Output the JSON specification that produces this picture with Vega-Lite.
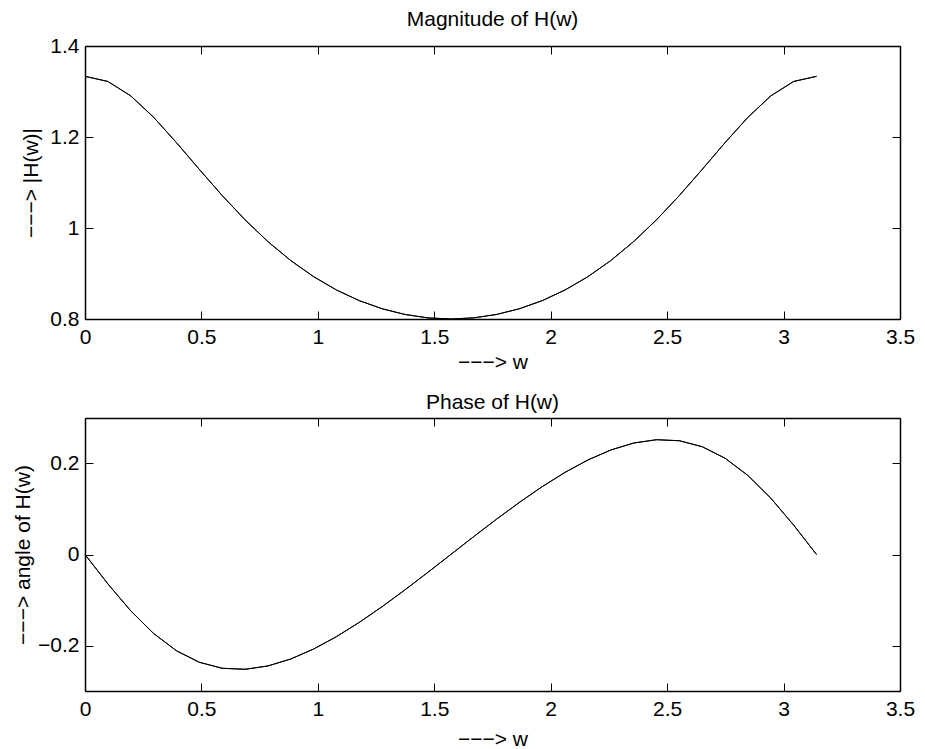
{
  "$schema": "https://vega.github.io/schema/vega-lite/v6.json",
  "background": "white",
  "padding": {"left": 11, "top": 9, "right": 5, "bottom": 0},
  "spacing": 19,
  "data": {"values": [
    {"w": 0.0, "mag": 1.33333, "phase": 0.0},
    {"w": 0.09817, "mag": 1.32209, "phase": -0.06453},
    {"w": 0.19635, "mag": 1.29039, "phase": -0.12377},
    {"w": 0.29452, "mag": 1.24345, "phase": -0.17358},
    {"w": 0.3927, "mag": 1.18766, "phase": -0.21152},
    {"w": 0.49087, "mag": 1.12887, "phase": -0.23687},
    {"w": 0.58905, "mag": 1.0714, "phase": -0.25006},
    {"w": 0.68722, "mag": 1.018, "phase": -0.25228},
    {"w": 0.7854, "mag": 0.97014, "phase": -0.24498},
    {"w": 0.88357, "mag": 0.92846, "phase": -0.22967},
    {"w": 0.98175, "mag": 0.89306, "phase": -0.20776},
    {"w": 1.07992, "mag": 0.86378, "phase": -0.18053},
    {"w": 1.1781, "mag": 0.84035, "phase": -0.14911},
    {"w": 1.27627, "mag": 0.82249, "phase": -0.11449},
    {"w": 1.37445, "mag": 0.80993, "phase": -0.07756},
    {"w": 1.47262, "mag": 0.80247, "phase": -0.03915},
    {"w": 1.5708, "mag": 0.8, "phase": 0.0},
    {"w": 1.66897, "mag": 0.80247, "phase": 0.03915},
    {"w": 1.76715, "mag": 0.80993, "phase": 0.07756},
    {"w": 1.86532, "mag": 0.82249, "phase": 0.11449},
    {"w": 1.9635, "mag": 0.84035, "phase": 0.14911},
    {"w": 2.06167, "mag": 0.86378, "phase": 0.18053},
    {"w": 2.15984, "mag": 0.89306, "phase": 0.20776},
    {"w": 2.25802, "mag": 0.92846, "phase": 0.22967},
    {"w": 2.35619, "mag": 0.97014, "phase": 0.24498},
    {"w": 2.45437, "mag": 1.018, "phase": 0.25228},
    {"w": 2.55254, "mag": 1.0714, "phase": 0.25006},
    {"w": 2.65072, "mag": 1.12887, "phase": 0.23687},
    {"w": 2.74889, "mag": 1.18766, "phase": 0.21152},
    {"w": 2.84707, "mag": 1.24345, "phase": 0.17358},
    {"w": 2.94524, "mag": 1.29039, "phase": 0.12377},
    {"w": 3.04342, "mag": 1.32209, "phase": 0.06453},
    {"w": 3.14159, "mag": 1.33333, "phase": 0.0}
  ]},
  "config": {
    "view": {"stroke": null},
    "font": "Liberation Sans",
    "title": {"font": "Liberation Sans", "fontSize": 21, "fontWeight": "normal", "color": "black", "anchor": "middle", "baseline": "alphabetic", "offset": 5},
    "axis": {
      "grid": false,
      "domainColor": "black",
      "domainWidth": 1.5,
      "tickColor": "black",
      "tickWidth": 1,
      "tickSize": -8,
      "labelColor": "black",
      "labelFont": "Liberation Sans",
      "labelFontSize": 21,
      "labelFlush": false,
      "labelOverlap": false,
      "titleFont": "Liberation Sans",
      "titleFontSize": 21,
      "titleFontWeight": "normal",
      "titleColor": "black",
      "format": ".1~f"
    }
  },
  "vconcat": [
    {
      "width": 815,
      "height": 273,
      "title": {"text": "Magnitude of H(w)"},
      "resolve": {"axis": {"x": "independent", "y": "independent"}},
      "layer": [
        {
          "mark": {"type": "line", "color": "black", "strokeWidth": 1},
          "encoding": {
            "x": {"field": "w", "type": "quantitative", "scale": {"domain": [0, 3.5], "nice": false, "zero": false},
                  "axis": {"orient": "bottom", "values": [0, 0.5, 1, 1.5, 2, 2.5, 3, 3.5], "labelPadding": 15, "title": "−−−> w", "titleBaseline": "alphabetic", "titleY": 49, "titleX": 407.5}},
            "y": {"field": "mag", "type": "quantitative", "scale": {"domain": [0.8, 1.4], "nice": false, "zero": false},
                  "axis": {"orient": "left", "values": [0.8, 1, 1.2, 1.4], "labelPadding": 14, "title": "−−−> |H(w)|", "titleBaseline": "alphabetic", "titleX": -48, "titleY": 136.5, "titleAngle": -90, "titleAlign": "center"}}
          }
        },
        {
          "mark": {"type": "line", "color": "black", "strokeWidth": 1},
          "encoding": {
            "x": {"field": "w", "type": "quantitative", "scale": {"domain": [0, 3.5], "nice": false, "zero": false},
                  "axis": {"orient": "top", "values": [0, 0.5, 1, 1.5, 2, 2.5, 3, 3.5], "labels": false, "title": null}},
            "y": {"field": "mag", "type": "quantitative", "scale": {"domain": [0.8, 1.4], "nice": false, "zero": false},
                  "axis": {"orient": "right", "values": [0.8, 1, 1.2, 1.4], "labels": false, "title": null}}
          }
        }
      ]
    },
    {
      "width": 815,
      "height": 273,
      "title": {"text": "Phase of H(w)"},
      "resolve": {"axis": {"x": "independent", "y": "independent"}},
      "layer": [
        {
          "mark": {"type": "line", "color": "black", "strokeWidth": 1},
          "encoding": {
            "x": {"field": "w", "type": "quantitative", "scale": {"domain": [0, 3.5], "nice": false, "zero": false},
                  "axis": {"orient": "bottom", "values": [0, 0.5, 1, 1.5, 2, 2.5, 3, 3.5], "labelPadding": 15, "title": "−−−> w", "titleBaseline": "alphabetic", "titleY": 54, "titleX": 407.5}},
            "y": {"field": "phase", "type": "quantitative", "scale": {"domain": [-0.3, 0.3], "nice": false, "zero": false},
                  "axis": {"orient": "left", "values": [-0.2, 0, 0.2], "labelPadding": 14, "title": "−−−> angle of H(w)", "titleBaseline": "alphabetic", "titleX": -56, "titleY": 136.5, "titleAngle": -90, "titleAlign": "center"}}
          }
        },
        {
          "mark": {"type": "line", "color": "black", "strokeWidth": 1},
          "encoding": {
            "x": {"field": "w", "type": "quantitative", "scale": {"domain": [0, 3.5], "nice": false, "zero": false},
                  "axis": {"orient": "top", "values": [0, 0.5, 1, 1.5, 2, 2.5, 3, 3.5], "labels": false, "title": null}},
            "y": {"field": "phase", "type": "quantitative", "scale": {"domain": [-0.3, 0.3], "nice": false, "zero": false},
                  "axis": {"orient": "right", "values": [-0.2, 0, 0.2], "labels": false, "title": null}}
          }
        }
      ]
    }
  ]
}
